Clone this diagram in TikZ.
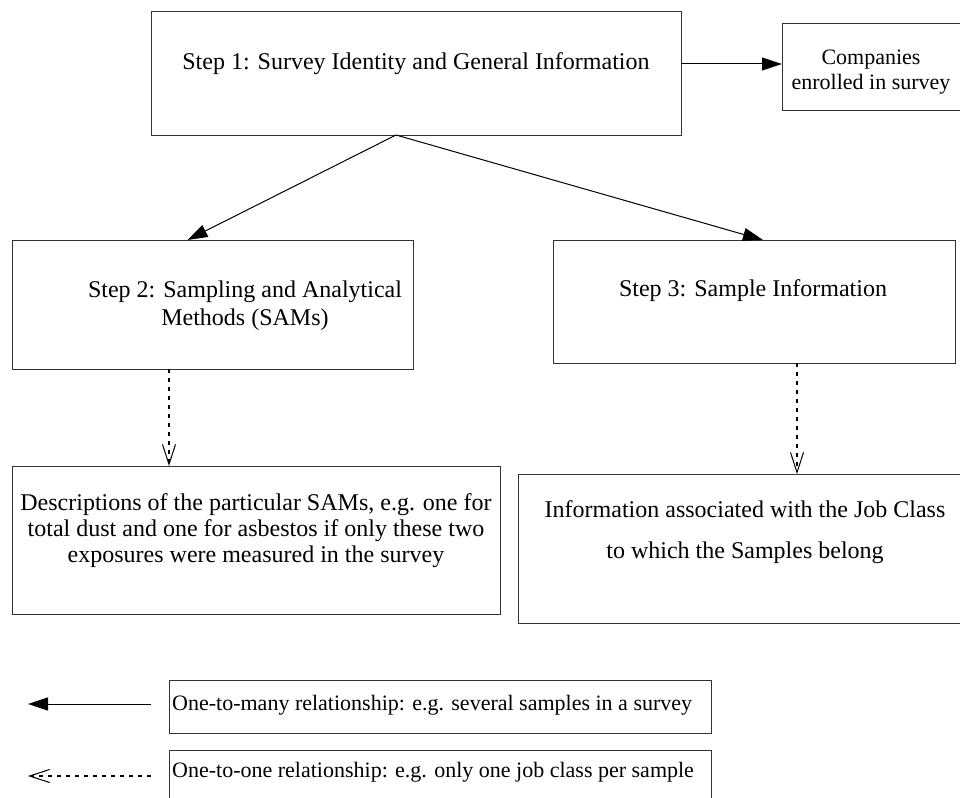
\documentclass[tikz,border=0pt]{standalone}
\usepackage{fontspec}
\setmainfont{Liberation Serif}
\usetikzlibrary{arrows.meta}
\begin{document}
\begin{tikzpicture}[x=1pt,y=-1pt,
  box/.style={draw=black!80,line width=1pt,inner sep=0pt,outer sep=0pt,anchor=north west},
  txt/.style={align=center,inner sep=0pt,font=\fontsize{24}{27.6}\selectfont},
  smalltxt/.style={align=center,inner sep=0pt,font=\fontsize{22}{25}\selectfont},
  legtxt/.style={anchor=west,inner sep=0pt,font=\fontsize{22}{25}\selectfont},
  onemany/.style={draw=black,line width=1pt,-{Triangle[length=20pt,width=13pt]}},
  oneone/.style={draw=black,line width=1.8pt,dash pattern=on 4pt off 5pt,
    -{Straight Barb[length=20pt,width=13pt,line width=1pt]}}
]
\useasboundingbox (0,0) rectangle (960,797);
\clip (0,0) rectangle (960,797);

% boxes
\node[box,minimum width=530pt,minimum height=123pt] (s1) at (151,12) {};
\node[box,minimum width=200pt,minimum height=87pt] (comp) at (782,24) {};
\node[box,minimum width=401pt,minimum height=129pt] (s2) at (12,240) {};
\node[box,minimum width=402pt,minimum height=123pt] (s3) at (553,240) {};
\node[box,minimum width=488pt,minimum height=148pt] (s2b) at (12,466) {};
\node[box,minimum width=460pt,minimum height=149pt] (s3b) at (518,474) {};
\node[box,minimum width=542pt,minimum height=53pt] (leg1) at (169,680) {};
\node[box,minimum width=542pt,minimum height=60pt] (leg2) at (169,750) {};

% texts
\node[txt] (t1) at (416,64) {Step 1: Survey Identity and General Information};
\node[smalltxt] (tc) at (871,72.5) {Companies\\enrolled in survey};
\node[txt] (t2) at (245,305.5) {Step 2: Sampling and Analytical\\Methods (SAMs)};
\node[txt] (t3) at (753,291) {Step 3: Sample Information};
\node[txt,font=\fontsize{24}{26}\selectfont] (t2b) at (256,531) {Descriptions of the particular SAMs, e.g. one for\\total dust and one for asbestos if only these two\\exposures were measured in the survey};
\node[txt,font=\fontsize{24}{41}\selectfont] (t3b) at (745,532.5) {Information associated with the Job Class\\to which the Samples belong};
\node[legtxt] (tl1) at (172,705) {One-to-many relationship: e.g. several samples in a survey};
\node[legtxt] (tl2) at (172,772) {One-to-one relationship: e.g. only one job class per sample};

% connectors
\draw[onemany] (s1.east |- t1) -- (comp.west |- t1);
\draw[onemany] ([xshift=-20pt]s1.south) -- ([xshift=-25pt]s2.north);
\draw[onemany] ([xshift=-20pt]s1.south) -- ([xshift=9pt]s3.north);
\draw[oneone] ([xshift=-43.5pt]s2.south) -- ([xshift=-43.5pt]s2.south |- s2b.north);
\draw[oneone] ([xshift=43pt]s3.south) -- ([xshift=43pt]s3.south |- s3b.north);

% legend arrows
\coordinate (la1) at (151,704);
\coordinate (la2) at (28,704);
\coordinate (lb1) at (151,776);
\coordinate (lb2) at (28,776);
\draw[onemany] (la1) -- (la2);
\draw[oneone] (lb1) -- (lb2);
\end{tikzpicture}
\end{document}
